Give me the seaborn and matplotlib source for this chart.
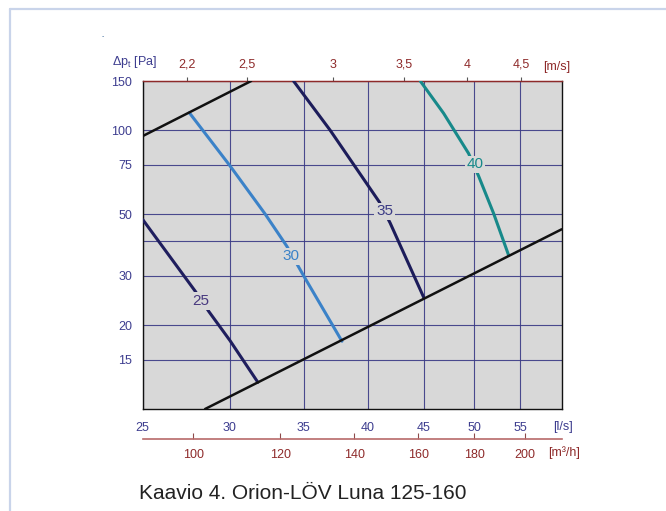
import matplotlib
matplotlib.use("Agg")
import matplotlib.pyplot as plt
from matplotlib.ticker import NullLocator
from matplotlib.lines import Line2D
import pandas as pd
import seaborn as sns

# Sound-level curves: flow q [l/s] vs total pressure drop dp [Pa]
q_25 = [25.0, 27.89, 28.72, 30.0, 31.8]
dp_25 = [47.8, 26.5, 22.3, 17.6, 12.47]
q_30 = [27.56, 30.0, 32.29, 33.79, 35.0, 37.91]
dp_30 = [115.4, 74.5, 50.0, 38.3, 30.0, 17.5]
q_35 = [34.26, 36.98, 40.98, 41.92, 45.0]
dp_35 = [150.0, 100.0, 55.3, 46.5, 25.0]
q_40 = [44.65, 46.88, 49.39, 50.44, 52.04, 53.7]
dp_40 = [150.0, 114.9, 82.5, 68.4, 50.3, 35.6]

# Operating range limits (upper and lower damper positions)
q_upper = [25.0, 31.36]
dp_upper = [95.2, 150.0]
q_lower = [28.48, 60.0]
dp_lower = [10.0, 44.1]

levels = ["25", "30", "35", "40"]
label_q = [28.24, 34.09, 41.44, 50.03]
label_dp = [24.4, 35.3, 51.2, 75.4]

ls_ticks = [25, 30, 35, 40, 45, 50, 55]
m3h_ticks = [100, 120, 140, 160, 180, 200]
pa_ticks = [15, 20, 30, 40, 50, 75, 100, 150]
pa_labels = ["15", "20", "30", "", "50", "75", "100", "150"]
ms_labels = ["2,2", "2,5", "3", "3,5", "4", "4,5"]
ms_tick_q = [27.41, 31.08, 37.17, 43.19, 49.24, 55.12]

BLUE_TXT = "#3d3d8f"
RED_TXT = "#8e2a2a"
GRID = "#3a3a85"
BG = "#d8d8d8"
curve_colors = {"25": "#1f1e5e", "30": "#3b82c8", "35": "#1c1c5a", "40": "#17898a"}
label_colors = {"25": "#48397f", "30": "#3b82c8", "35": "#3b3b85", "40": "#17898a"}

sns.set_style("white")
plt.rcParams["font.family"] = ["Liberation Sans", "DejaVu Sans"]

W, H = 666, 511
fig = plt.figure(figsize=(W / 100, H / 100), dpi=100)
ax = fig.add_axes([142.7 / W, 1 - 409 / H, (561.7 - 142.7) / W, (409 - 81) / H])
ax.set_facecolor(BG)

curves = pd.concat([
    pd.DataFrame({"q": q, "dp": dp, "level": lev})
    for q, dp, lev in zip([q_25, q_30, q_35, q_40], [dp_25, dp_30, dp_35, dp_40], levels)
])
limits = pd.concat([
    pd.DataFrame({"q": q_upper, "dp": dp_upper, "limit": "upper"}),
    pd.DataFrame({"q": q_lower, "dp": dp_lower, "limit": "lower"}),
])

ax.set_xscale("log")
ax.set_yscale("log")

sns.lineplot(data=curves, x="q", y="dp", hue="level", palette=curve_colors,
             estimator=None, sort=False, linewidth=2.2, legend=False, ax=ax, zorder=3)
sns.lineplot(data=limits, x="q", y="dp", units="limit", color="#111111",
             estimator=None, sort=False, linewidth=1.8, legend=False, ax=ax, zorder=3)

for lev, q, dp in zip(levels, label_q, label_dp):
    ax.text(q, dp, lev, ha="center", va="center", fontsize=11, color=label_colors[lev],
            zorder=5, bbox=dict(facecolor=BG, edgecolor="none", pad=1.2))

ax.set_xlim(25, 60)
ax.set_ylim(10, 150)
ax.set_xlabel("")
ax.set_ylabel("")

ax.set_xticks(ls_ticks, labels=[str(t) for t in ls_ticks])
ax.set_yticks(pa_ticks, labels=pa_labels)
ax.xaxis.set_minor_locator(NullLocator())
ax.yaxis.set_minor_locator(NullLocator())
ax.grid(True, which="major", color=GRID, linewidth=0.8, alpha=0.9, zorder=1)
ax.set_axisbelow(True)
ax.tick_params(axis="both", which="major", direction="out", length=3.2, width=0.8,
               color=BLUE_TXT, labelcolor=BLUE_TXT, labelsize=9)
ax.tick_params(axis="y", pad=4.5)
ax.tick_params(axis="x", pad=6)

for side in ("left", "bottom", "right"):
    ax.spines[side].set_color("#111111")
    ax.spines[side].set_linewidth(1.0)
ax.spines["top"].set_color(RED_TXT)
ax.spines["top"].set_linewidth(1.0)

# Velocity scale along the top edge
top = ax.secondary_xaxis("top", functions=(lambda v: v, lambda v: v))
top.set_xticks(ms_tick_q, labels=ms_labels)
top.xaxis.set_minor_locator(NullLocator())
top.tick_params(direction="out", length=3.2, width=0.8, color="#555555",
                labelcolor=RED_TXT, labelsize=9, pad=4)
top.spines["top"].set_color(RED_TXT)

# Air flow in m3/h below the l/s scale
m3h = ax.secondary_xaxis(-0.0915, functions=(lambda q: q * 3.6, lambda m: m / 3.6))
m3h.set_xticks(m3h_ticks, labels=[str(t) for t in m3h_ticks])
m3h.xaxis.set_minor_locator(NullLocator())
m3h.tick_params(direction="in", length=4, width=0.8, color="#8e4a4a",
                labelcolor=RED_TXT, labelsize=9, pad=7)
m3h.spines["bottom"].set_color("#b86a6a")
m3h.spines["bottom"].set_linewidth(1.2)


def fig_text(x, y, s, **kw):
    fig.text(x / W, 1 - y / H, s, **kw)


fig_text(112, 61.5, "Δp$_\\mathregular{t}$ [Pa]", ha="left", va="center",
         fontsize=9, color=BLUE_TXT)
fig_text(543, 67, "[m/s]", ha="left", va="center", fontsize=9, color=RED_TXT)
fig_text(553, 426.5, "[l/s]", ha="left", va="center", fontsize=9, color=BLUE_TXT)
fig_text(548, 452.5, "[m³/h]", ha="left", va="center", fontsize=9, color=RED_TXT)
fig_text(103, 36.5, "-", ha="center", va="center", fontsize=5, color="#3d6a9a")
fig_text(139, 493, "Kaavio 4. Orion-LÖV Luna 125-160", ha="left", va="center",
         fontsize=15, color="#222222")

# Light frame around the figure
frame_color = "#c9d4ea"
fig.add_artist(Line2D([10 / W, 10 / W], [0, 1 - 9.5 / H], color=frame_color,
                      linewidth=1.6, transform=fig.transFigure))
fig.add_artist(Line2D([10 / W, 1], [1 - 9.5 / H, 1 - 9.5 / H], color=frame_color,
                      linewidth=1.6, transform=fig.transFigure))

fig.savefig("out.png", dpi=100, facecolor="white")
